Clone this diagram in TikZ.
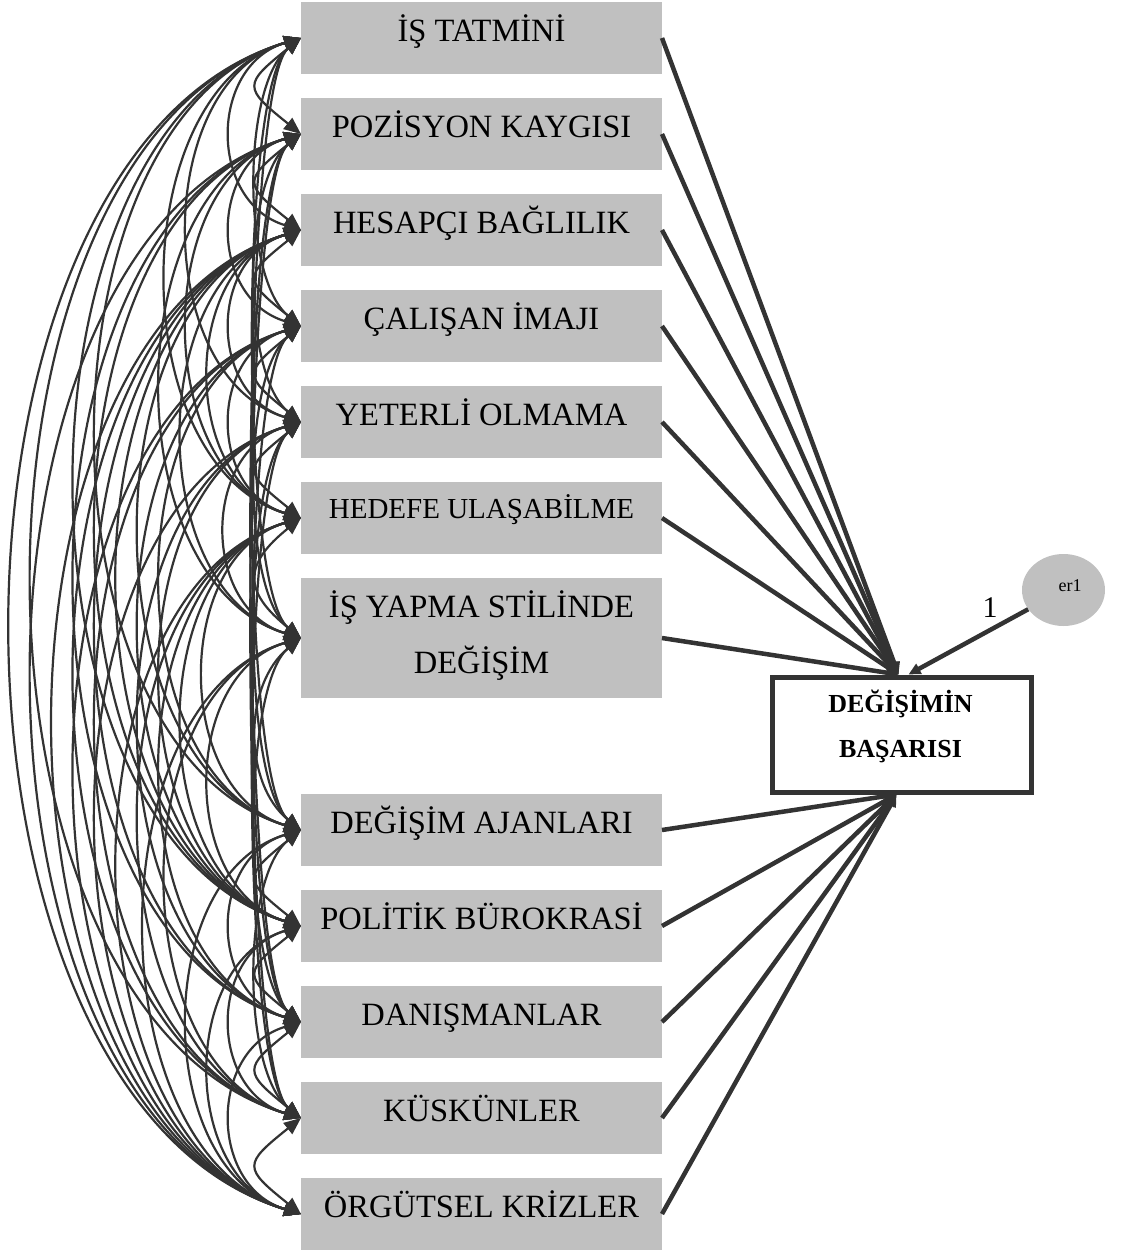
\documentclass[tikz,border=0pt]{standalone}
\usepackage{fontspec}
\setmainfont{Liberation Serif}
\usetikzlibrary{arrows.meta,shapes.geometric}
\definecolor{ink}{HTML}{333333}
\definecolor{boxgray}{HTML}{C0C0C0}
\begin{document}
\begin{tikzpicture}[x=1pt,y=-1pt,
  var/.style={fill=boxgray, minimum width=361pt, minimum height=72pt, inner sep=0pt, outer sep=0pt},
  lbl/.style={font=\fontsize{32.5}{38}\selectfont, anchor=base, inner sep=0pt, text=black},
  cov/.style={draw=ink, line width=2.2pt, {Triangle[length=17pt,width=14pt]}-{Triangle[length=17pt,width=14pt]}},
  regr/.style={draw=ink, line width=4.5pt, -{Triangle[length=12pt,width=11pt]}},
  outcome/.style={draw=ink, line width=5pt, minimum width=259pt, minimum height=115pt, inner sep=0pt},
  errvar/.style={ellipse, fill=boxgray, minimum width=83pt, minimum height=72pt, inner sep=0pt}]
\useasboundingbox (0,0) rectangle (1135,1253);

% observed variables
\node[var] (b1)  at (481.5,38)   {};
\node[var] (b2)  at (481.5,134)  {};
\node[var] (b3)  at (481.5,230)  {};
\node[var] (b4)  at (481.5,326)  {};
\node[var] (b5)  at (481.5,422)  {};
\node[var] (b6)  at (481.5,518)  {};
\node[var, minimum height=120pt] (b7) at (481.5,638) {};
\node[var] (b8)  at (481.5,830)  {};
\node[var] (b9)  at (481.5,926)  {};
\node[var] (b10) at (481.5,1022) {};
\node[var] (b11) at (481.5,1118) {};
\node[var] (b12) at (481.5,1214) {};

\node[lbl] (l1)  at (481.5,41)   {İŞ TATMİNİ};
\node[lbl] (l2)  at (481.5,137)  {POZİSYON KAYGISI};
\node[lbl] (l3)  at (481.5,233)  {HESAPÇI BAĞLILIK};
\node[lbl] (l4)  at (481.5,329)  {ÇALIŞAN İMAJI};
\node[lbl] (l5)  at (481.5,425)  {YETERLİ OLMAMA};
\node[lbl, font=\fontsize{29}{34}\selectfont] (l6) at (481.5,518) {HEDEFE ULAŞABİLME};
\node[lbl] (l7a) at (481.5,617)  {İŞ YAPMA STİLİNDE};
\node[lbl] (l7b) at (481.5,673)  {DEĞİŞİM};
\node[lbl] (l8)  at (481.5,833)  {DEĞİŞİM AJANLARI};
\node[lbl] (l9)  at (481.5,929)  {POLİTİK BÜROKRASİ};
\node[lbl] (l10) at (481.5,1025) {DANIŞMANLAR};
\node[lbl] (l11) at (481.5,1121) {KÜSKÜNLER};
\node[lbl] (l12) at (481.5,1217) {ÖRGÜTSEL KRİZLER};

% dependent variable and its error term
\node[outcome] (t) at (901.5,734.5) {};
\node[lbl, font=\bfseries\fontsize{26}{30}\selectfont] (t1) at (900.5,712) {DEĞİŞİMİN};
\node[lbl, font=\bfseries\fontsize{26}{30}\selectfont] (t2) at (900.5,757) {BAŞARISI};
\node[errvar] (e1) at (1063.5,590) {};
\node[lbl, font=\fontsize{18}{22}\selectfont] (e1t) at (1070,591) {er1};
\node[lbl, font=\fontsize{30}{34}\selectfont] (one) at (990,617) {1};

% regression paths
\foreach \i in {1,...,7}{
  \draw[regr] (b\i.east) -- ([xshift=-3pt]t.north);
}
\foreach \i in {8,...,12}{
  \draw[regr] (b\i.east) -- ([xshift=-5pt]t.south);
}
\draw[regr] (e1) -- ([xshift=7pt]t.north);

% covariances between all predictors
\def\ylist{{38,134,230,326,422,518,638,830,926,1022,1118,1214}}
\foreach \i in {1,...,11}{
  \pgfmathtruncatemacro\nx{\i+1}
  \foreach \j in {\nx,...,12}{
    \pgfmathsetmacro\dd{\ylist[\j-1]-\ylist[\i-1]}
    \pgfmathtruncatemacro\br{((\j-\i)==1) || (mod(\i*\j,3)==1)}
    \ifnum\br=1
      \pgfmathsetmacro\bow{43+0.5*(\j-\i)}
      \pgfmathsetmacro\kk{0.8}
    \else
      \pgfmathsetmacro\bow{26.6+0.223*\dd}
      \pgfmathsetmacro\kk{0.3}
    \fi
    \pgfmathsetmacro\hh{4*\bow/3}
    \pgfmathsetmacro\vv{\kk*\hh}
    \draw[cov] (b\i.west) .. controls +(-\hh,\vv) and +(-\hh,-\vv) .. (b\j.west);
  }
}
\end{tikzpicture}
\end{document}
